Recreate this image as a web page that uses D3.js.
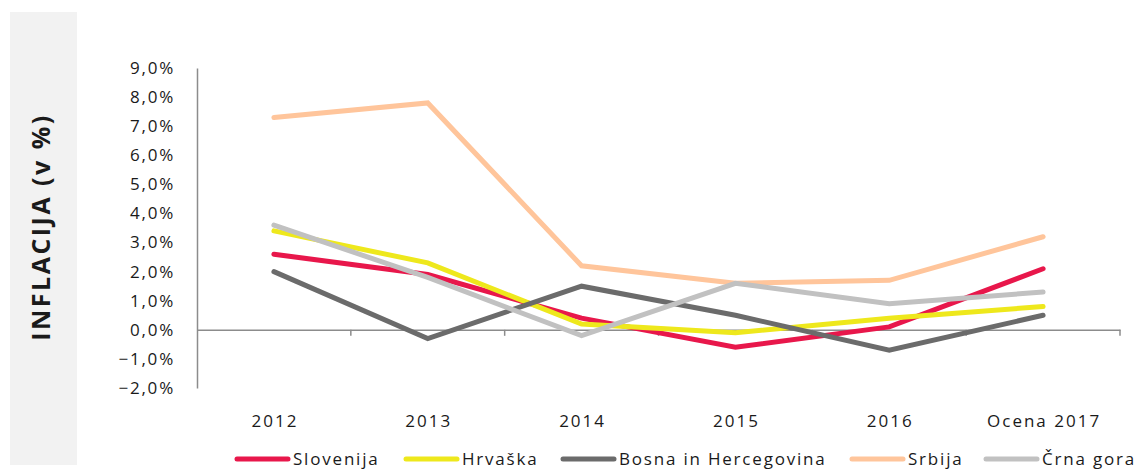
<!DOCTYPE html>
<html>
<head>
<meta charset="utf-8">
<script src="https://cdn.jsdelivr.net/npm/d3@7"></script>
<style>
  body { margin: 0; background: #fff; }
  svg text { font-family: "Open Sans", sans-serif; fill: #1a1a1a; }
</style>
</head>
<body>
<div id="chart"></div>
<script>
const categories = ['2012', '2013', '2014', '2015', '2016', 'Ocena 2017'];
const seriesNames = ['Slovenija', 'Hrvaška', 'Bosna in Hercegovina', 'Srbija', 'Črna gora'];
const slovenija = [2.6, 1.9, 0.4, -0.6, 0.1, 2.1];
const hrvaska = [3.4, 2.3, 0.2, -0.1, 0.4, 0.8];
const bosna = [2.0, -0.3, 1.5, 0.5, -0.7, 0.5];
const srbija = [7.3, 7.8, 2.2, 1.6, 1.7, 3.2];
const crnaGora = [3.6, 1.8, -0.2, 1.6, 0.9, 1.3];
const yTicks = [-2, -1, 0, 1, 2, 3, 4, 5, 6, 7, 8, 9];
const colors = ['#e8174b', '#eee81c', '#6b6b6b', '#ffc59b', '#c1c1c1'];

const allSeries = [slovenija, hrvaska, bosna, srbija, crnaGora];

const width = 1138;
const height = 473;

const svg = d3.select('#chart').append('svg')
    .attr('width', width)
    .attr('height', height);

// grey title panel on the left
svg.append('rect')
    .attr('x', 10).attr('y', 12)
    .attr('width', 67).attr('height', 453)
    .attr('fill', '#f2f2f2');

svg.append('text')
    .attr('transform', 'translate(50,227) rotate(-90)')
    .attr('text-anchor', 'middle')
    .style('font-size', '25px')
    .style('font-weight', 'bold')
    .style('letter-spacing', '2.5px')
    .text('INFLACIJA (v %)');

const x = d3.scaleBand()
    .domain(categories)
    .range([197, 1120]);

const y = d3.scaleLinear()
    .domain([-2, 9])
    .range([388, 68]);

// y axis
const yAxis = svg.append('g')
    .attr('transform', 'translate(197,0)')
    .call(d3.axisLeft(y).tickValues(yTicks).tickSize(0).tickPadding(22)
        .tickFormat(d => d3.format('.1f')(d).replace('.', ',') + '%'));
yAxis.select('.domain').attr('stroke', '#8c8c8c').attr('stroke-width', 1.5);
yAxis.selectAll('text')
    .style('font-size', '17px')
    .style('letter-spacing', '1.8px')
    .attr('fill', '#1a1a1a');

// x axis at zero
const xAxis = svg.append('g')
    .attr('transform', `translate(0,${y(0)})`)
    .call(d3.axisBottom(x).tickSize(0).tickFormat(''));
xAxis.select('.domain').attr('stroke', '#8c8c8c').attr('stroke-width', 1.5);

// tick marks on band boundaries
const bounds = categories.map(c => x(c) + x.bandwidth());
svg.append('g').selectAll('line')
    .data(bounds)
    .enter().append('line')
    .attr('x1', d => d).attr('x2', d => d)
    .attr('y1', y(0)).attr('y2', y(0) + 6)
    .attr('stroke', '#8c8c8c').attr('stroke-width', 1.5);

// category labels
svg.append('g').selectAll('text')
    .data(categories)
    .enter().append('text')
    .attr('x', d => x(d) + x.bandwidth() / 2 + 1)
    .attr('y', 427)
    .attr('text-anchor', 'middle')
    .style('font-size', '17px')
    .style('letter-spacing', '2px')
    .text(d => d);

// lines
const line = d3.line()
    .x((d, i) => x(categories[i]) + x.bandwidth() / 2)
    .y(d => y(d));

svg.append('g').selectAll('path')
    .data(allSeries)
    .enter().append('path')
    .attr('d', d => line(d))
    .attr('fill', 'none')
    .attr('stroke', (d, i) => colors[i])
    .attr('stroke-width', 5)
    .attr('stroke-linecap', 'round')
    .attr('stroke-linejoin', 'miter');

// legend
const legendX = [237, 406, 563, 852, 986];
const legend = svg.append('g').selectAll('g')
    .data(seriesNames)
    .enter().append('g')
    .attr('transform', (d, i) => `translate(${legendX[i]},459)`);

legend.append('line')
    .attr('x1', 0).attr('x2', 51)
    .attr('stroke', (d, i) => colors[i])
    .attr('stroke-width', 5)
    .attr('stroke-linecap', 'round');

legend.append('text')
    .attr('x', 56)
    .attr('y', 6)
    .style('font-size', '17px')
    .style('letter-spacing', '1.8px')
    .text(d => d);
</script>
</body>
</html>
